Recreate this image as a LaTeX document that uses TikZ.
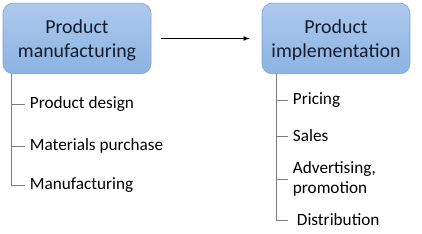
\documentclass[tikz,border=0pt]{standalone}
\usepackage{fontspec}
\setmainfont{Carlito}
\definecolor{boxtop}{RGB}{172,201,236}
\definecolor{boxbot}{RGB}{140,179,226}
\definecolor{boxline}{RGB}{130,165,212}
\definecolor{boxtext}{RGB}{20,28,48}
\definecolor{branchgray}{RGB}{125,125,125}
\tikzset{
  stagebox/.style={draw=boxline, rounded corners=7.5pt, top color=boxtop, bottom color=boxbot,
    minimum width=111pt, minimum height=53pt, align=center, text=boxtext, text depth=0pt,
    font=\fontsize{14.9}{18}\selectfont},
  item/.style={anchor=west, inner xsep=3.5pt, inner ysep=2pt, align=left,
    font=\fontsize{12.9}{15}\selectfont},
  branch/.style={draw=branchgray, line width=0.6pt}
}

\begin{document}
\begin{tikzpicture}[x=0.75pt,y=-0.75pt]
\useasboundingbox (0,0) rectangle (422,234);
\node[stagebox] (mf) at (77,38.5) {Product\\manufacturing};
\node[stagebox] (mi) at (336,38.5) {Product\\implementation};
\draw[-latex, line width=0.6pt, shorten <=7.5pt, shorten >=9pt] (mf.east) -- (mi.west);
% left list
\coordinate (mft) at ([xshift=6.75pt]mf.south west);
\foreach \y/\name/\txt in {104/pd/Product design,146/mp/Materials purchase}{
  \node[item] (\name) at (25,\y) {\txt};
  \draw[branch] (mft |- \name.west) -- (\name.west);
}
\node[item] (mg) at (25,185) {Manufacturing};
\draw[branch] (mft) |- (mg.west);
% right list
\coordinate (mit) at ([xshift=11.25pt]mi.south west);
\foreach \y/\name/\txt in {100/pr/Pricing,136/sa/Sales,179/ad/{Advertising,\\promotion}}{
  \node[item] (\name) at (288,\y) {\txt};
  \draw[branch] (mit |- \name.west) -- (\name.west);
}
\node[item] (di) at (288,220) {\hspace{3pt}Distribution};
\draw[branch] (mit) |- (di.west);
\end{tikzpicture}
\end{document}
